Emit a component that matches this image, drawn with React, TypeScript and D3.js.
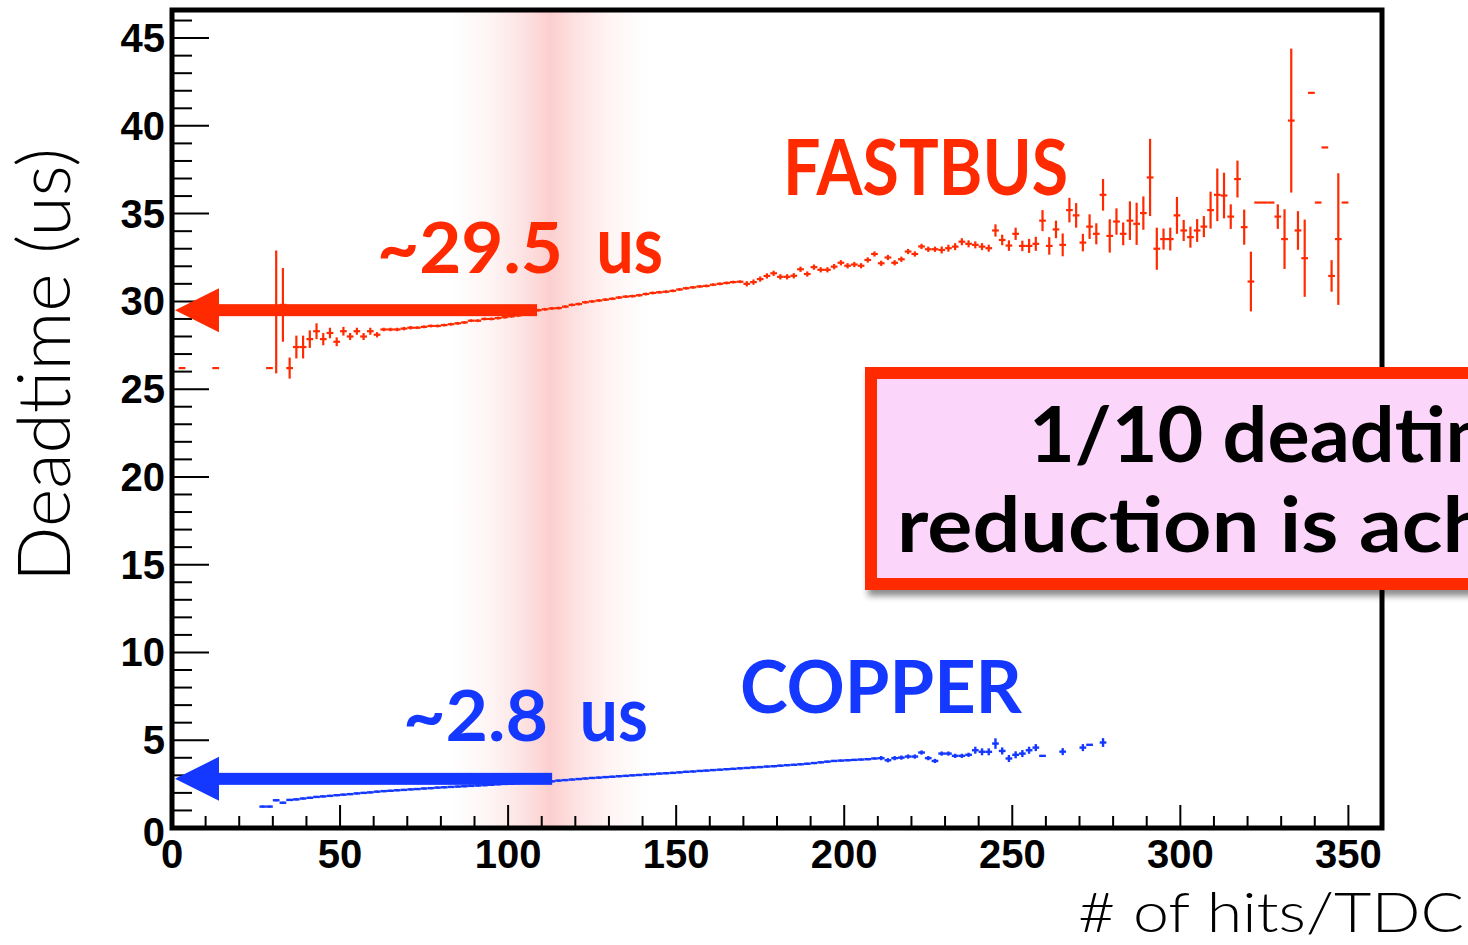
import React from "react";
import * as d3 from "d3";

// ---------- data ----------
const fastbusBins = [
  3, 13, 29, 31, 33, 35, 37, 39, 41, 43, 45, 47, 49, 51, 53, 55, 57, 59, 61, 63, 65, 67, 69, 71, 73, 75, 77, 79, 81,
  83, 85, 87, 89, 91, 93, 95, 97, 99, 101, 103, 105, 107, 109, 111, 113, 115, 117, 119, 121, 123, 125, 127, 129,
  131, 133, 135, 137, 139, 141, 143, 145, 147, 149, 151, 153, 155, 157, 159, 161, 163, 165, 167, 169, 171, 173,
  175, 177, 179, 181, 183, 185, 187, 189, 191, 193, 195, 197, 199, 201, 203, 205, 207, 209, 211, 213, 215, 217,
  219, 221, 223, 225, 227, 229, 231, 233, 235, 237, 239, 241, 243, 245, 247, 249, 251, 253, 255, 257, 259, 261,
  263, 265, 267, 269, 271, 273, 275, 277, 279, 281, 283, 285, 287, 289, 291, 293, 295, 297, 299, 301, 303, 305,
  307, 309, 311, 313, 315, 317, 319, 321, 323, 325, 327, 329, 331, 333, 335, 337, 339, 341, 343, 345, 347, 349,
];
const fastbusDeadtime = [
  26.2, 26.2, 26.2, 29.4, 29.8, 26.2, 27.4, 27.4, 27.85, 28.3, 27.85, 28.2, 27.7, 28.3, 28.0, 28.3, 28.0, 28.3, 28.1,
  28.4, 28.4, 28.4, 28.45, 28.5, 28.5, 28.55, 28.6, 28.6, 28.65, 28.7, 28.75, 28.8, 28.9, 28.9, 29.0, 29.0, 29.05,
  29.1, 29.15, 29.2, 29.3, 29.4, 29.5, 29.55, 29.6, 29.62, 29.7, 29.8, 29.85, 29.95, 30.0, 30.05, 30.1, 30.15,
  30.22, 30.27, 30.3, 30.35, 30.42, 30.48, 30.52, 30.55, 30.6, 30.68, 30.75, 30.8, 30.85, 30.88, 30.95, 31.0,
  31.05, 31.1, 31.12, 31.0, 31.1, 31.27, 31.45, 31.6, 31.4, 31.4, 31.46, 31.83, 31.56, 31.95, 31.8, 31.8, 31.98,
  32.2, 32.03, 32.1, 32.03, 32.36, 32.7, 32.17, 32.5, 32.2, 32.4, 32.84, 32.7, 33.13, 32.97, 32.97, 32.93, 33.03,
  33.12, 33.4, 33.28, 33.22, 33.12, 33.03, 34.04, 33.5, 33.18, 33.85, 33.16, 33.16, 33.28, 34.6, 33.16, 34.1,
  33.22, 35.2, 34.9, 33.35, 34.26, 33.85, 36.07, 33.73, 34.55, 33.85, 34.6, 34.42, 35.03, 37.06, 33.0, 33.55,
  33.55, 34.9, 34.04, 33.66, 34.04, 34.26, 35.2, 36.07, 36.03, 34.83, 36.97, 34.23, 31.13, 35.63, 35.63, 35.63,
  34.83, 33.55, 40.3, 34.04, 32.46, 41.88, 35.63, 38.77, 31.45, 33.55, 35.63,
];
const fastbusError = [
  0, 0, 0, 3.5, 2.1, 0.6, 0.65, 0.65, 0.5, 0.45, 0.35, 0.3, 0.25, 0.25, 0.2, 0.2, 0.2, 0.2, 0.15, 0.1, 0.1, 0.1, 0.1,
  0.1, 0.08, 0.08, 0.08, 0.08, 0.08, 0.08, 0.08, 0.08, 0.08, 0.08, 0.08, 0.08, 0.08, 0.08, 0.08, 0.08, 0.08, 0.08,
  0.08, 0.08, 0.08, 0.08, 0.08, 0.08, 0.08, 0.08, 0.08, 0.08, 0.08, 0.08, 0.08, 0.08, 0.08, 0.08, 0.08, 0.08,
  0.08, 0.08, 0.08, 0.08, 0.08, 0.08, 0.08, 0.08, 0.08, 0.08, 0.08, 0.08, 0.08, 0.15, 0.15, 0.15, 0.15, 0.15,
  0.15, 0.15, 0.15, 0.15, 0.15, 0.15, 0.15, 0.15, 0.15, 0.15, 0.15, 0.15, 0.15, 0.15, 0.15, 0.15, 0.15, 0.15,
  0.15, 0.15, 0.15, 0.15, 0.15, 0.15, 0.2, 0.2, 0.2, 0.2, 0.2, 0.2, 0.2, 0.2, 0.35, 0.3, 0.3, 0.35, 0.3, 0.4, 0.4,
  0.6, 0.5, 0.5, 0.65, 0.7, 0.7, 0.5, 0.7, 0.6, 0.9, 0.95, 0.75, 0.65, 1.1, 1.2, 0.95, 2.2, 1.2, 0.6, 0.65, 1.05,
  0.6, 0.6, 0.65, 0.6, 1.05, 1.5, 1.3, 0.7, 1.05, 1.0, 1.7, 0, 0, 0, 0.7, 1.7, 4.1, 1.1, 2.2, 0, 0, 0, 0.9, 3.75, 0,
];

const copperBins = [
  27, 29, 31, 33, 35, 37, 39, 41, 43, 45, 47, 49, 51, 53, 55, 57, 59, 61, 63, 65, 67, 69, 71, 73, 75, 77, 79, 81, 83,
  85, 87, 89, 91, 93, 95, 97, 99, 101, 103, 105, 107, 109, 111, 113, 115, 117, 119, 121, 123, 125, 127, 129, 131,
  133, 135, 137, 139, 141, 143, 145, 147, 149, 151, 153, 155, 157, 159, 161, 163, 165, 167, 169, 171, 173, 175,
  177, 179, 181, 183, 185, 187, 189, 191, 193, 195, 197, 199, 201, 203, 205, 207, 209, 211, 213, 215, 217, 219,
  221, 223, 225, 227, 229, 231, 233, 235, 237, 239, 241, 243, 245, 247, 249, 251, 253, 255, 257, 259, 265, 271,
  273, 277,
];
const copperDeadtime = [
  1.22, 1.22, 1.58, 1.44, 1.6, 1.63, 1.68, 1.72, 1.77, 1.8, 1.83, 1.87, 1.9, 1.93, 1.97, 2.0, 2.03, 2.07, 2.1, 2.12,
  2.15, 2.17, 2.2, 2.22, 2.25, 2.27, 2.3, 2.32, 2.34, 2.36, 2.38, 2.4, 2.42, 2.44, 2.46, 2.49, 2.51, 2.53, 2.56, 2.58,
  2.6, 2.62, 2.64, 2.66, 2.7, 2.73, 2.76, 2.79, 2.82, 2.85, 2.87, 2.9, 2.92, 2.95, 2.97, 3.0, 3.02, 3.05, 3.07, 3.1,
  3.12, 3.14, 3.17, 3.2, 3.22, 3.25, 3.27, 3.3, 3.32, 3.35, 3.37, 3.4, 3.42, 3.45, 3.47, 3.5, 3.52, 3.55, 3.58, 3.6,
  3.63, 3.66, 3.7, 3.74, 3.78, 3.82, 3.84, 3.86, 3.88, 3.9, 3.92, 3.96, 3.98, 3.86, 3.98, 4.01, 4.07, 4.07, 4.3,
  3.98, 3.82, 4.24, 4.24, 4.11, 4.11, 4.17, 4.43, 4.34, 4.34, 4.81, 4.39, 3.96, 4.17, 4.24, 4.43, 4.58, 4.11, 4.35,
  4.58, 4.74, 4.87,
];
const copperError = copperBins.map((b) =>
  b === 245 ? 0.3 : b === 277 ? 0.25 : b === 259 || b === 273 ? 0 : b >= 239 ? 0.2 : b >= 211 ? 0.12 : 0.06
);

const xTickValues = [0, 50, 100, 150, 200, 250, 300, 350];
const yTickValues = [0, 5, 10, 15, 20, 25, 30, 35, 40, 45];

const RED = "#ff2a00";
const BLUE = "#1438ff";

// ---------- scales ----------
const xScale = d3.scaleLinear().domain([0, 360]).range([172, 1382]);
const yScale = d3.scaleLinear().domain([0, 46.6]).range([828, 10]);
const BIN_HALF = 1;

function Crosses({ bins, vals, errs, color, sw }) {
  return (
    <g stroke={color} strokeWidth={sw} fill="none">
      {bins.map((b, i) => {
        const y = yScale(vals[i]);
        const x = xScale(b);
        return (
          <g key={i}>
            <line x1={xScale(b - BIN_HALF)} x2={xScale(b + BIN_HALF)} y1={y} y2={y} />
            {errs[i] > 0 && <line x1={x} x2={x} y1={yScale(vals[i] - errs[i])} y2={yScale(vals[i] + errs[i])} />}
          </g>
        );
      })}
    </g>
  );
}

function Arrow({ value, tail, color }) {
  const y = yScale(value);
  const tip = xScale(0) + 3;
  const base = tip + 44;
  return (
    <g fill={color}>
      <rect x={base - 1} y={y - 6} width={xScale(tail) - base + 1} height={12} />
      <polygon points={`${tip},${y} ${base},${y - 22} ${base},${y + 22}`} />
    </g>
  );
}

export default function App() {
  const yMinor = d3.range(1, 47);
  const xMinor = d3.range(10, 360, 10);
  const axisFont = "'Liberation Sans', Arial, sans-serif";
  const annFont = "Lato, 'Open Sans', sans-serif";
  const bandC = "rgb(245,75,75)";
  return (
    <svg
      width={1468}
      height={945}
      style={{ position: "absolute", left: 0, top: 0, background: "#fff" }}
      xmlns="http://www.w3.org/2000/svg"
    >
      <defs>
        <linearGradient id="band" x1={xScale(83)} x2={xScale(142)} y1={0} y2={0} gradientUnits="userSpaceOnUse">
          <stop offset="0" stopColor={bandC} stopOpacity={0} />
          <stop offset="0.2" stopColor={bandC} stopOpacity={0.06} />
          <stop offset="0.38" stopColor={bandC} stopOpacity={0.17} />
          <stop offset="0.5" stopColor={bandC} stopOpacity={0.27} />
          <stop offset="0.62" stopColor={bandC} stopOpacity={0.17} />
          <stop offset="0.8" stopColor={bandC} stopOpacity={0.06} />
          <stop offset="1" stopColor={bandC} stopOpacity={0} />
        </linearGradient>
        <filter id="shadow" x="-5%" y="-10%" width="115%" height="130%">
          <feDropShadow dx="3" dy="6" stdDeviation="3" floodColor="#000" floodOpacity="0.45" />
        </filter>
      </defs>

      {/* highlight band */}
      <rect x={xScale(83)} y={yScale(46.6)} width={xScale(142) - xScale(83)} height={yScale(0) - yScale(46.6)} fill="url(#band)" />

      {/* ticks */}
      <g stroke="#000" strokeWidth={2}>
        {yMinor.map((v) => (
          <line key={"y" + v} x1={xScale(0)} x2={xScale(0) + (v % 5 === 0 ? 37 : 20)} y1={yScale(v)} y2={yScale(v)} />
        ))}
        {xMinor.map((v) => (
          <line key={"x" + v} x1={xScale(v)} x2={xScale(v)} y1={yScale(0)} y2={yScale(0) - (v % 50 === 0 ? 23 : 12)} />
        ))}
      </g>

      {/* data */}
      <Crosses bins={copperBins} vals={copperDeadtime} errs={copperError} color={BLUE} sw={2.4} />
      <Crosses bins={fastbusBins} vals={fastbusDeadtime} errs={fastbusError} color={RED} sw={2.2} />

      {/* frame */}
      <rect x={xScale(0)} y={yScale(46.6)} width={xScale(360) - xScale(0)} height={yScale(0) - yScale(46.6)} fill="none" stroke="#000" strokeWidth={5} />

      {/* tick labels */}
      <g fontFamily={axisFont} fontWeight="bold" fontSize={40} fill="#000">
        {yTickValues.map((v) => (
          <text key={"yl" + v} x={165} y={yScale(v) + 14 + (v === 0 ? 4 : 0)} textAnchor="end">
            {v}
          </text>
        ))}
        {xTickValues.map((v) => (
          <text key={"xl" + v} x={xScale(v)} y={868} textAnchor="middle">
            {v}
          </text>
        ))}
      </g>

      {/* axis titles */}
      <text transform="translate(70,365) rotate(-90)" textAnchor="middle" fontFamily={annFont} fontWeight={300} fontSize={72} textLength={434} lengthAdjust="spacingAndGlyphs" fill="#000">
        Deadtime (us)
      </text>
      <text x={1078} y={932} fontFamily={annFont} fontWeight={300} fontSize={56} textLength={386} lengthAdjust="spacingAndGlyphs" fill="#000">
        # of hits/TDC
      </text>

      {/* arrows */}
      <Arrow value={29.5} tail={108.6} color={RED} />
      <Arrow value={2.8} tail={113.1} color={BLUE} />

      {/* annotations */}
      <g fontFamily={annFont} fontWeight={700}>
        <text x={783} y={195} fontSize={76} fill={RED} textLength={285} lengthAdjust="spacingAndGlyphs">FASTBUS</text>
        <text x={740} y={713} fontSize={72} fill={BLUE} textLength={282} lengthAdjust="spacingAndGlyphs">COPPER</text>
        <text y={273} fill={RED}>
          <tspan x={377} fontSize={71} textLength={186} lengthAdjust="spacingAndGlyphs">~29.5</tspan>
          <tspan x={580} fontSize={81} textLength={83} lengthAdjust="spacingAndGlyphs"> us</tspan>
        </text>
        <text y={741} fill={BLUE}>
          <tspan x={403} fontSize={70} textLength={145} lengthAdjust="spacingAndGlyphs">~2.8</tspan>
          <tspan x={563} fontSize={76} textLength={85} lengthAdjust="spacingAndGlyphs"> us</tspan>
        </text>
      </g>

      {/* callout box */}
      <g filter="url(#shadow)">
        <rect x={871} y={373} width={900} height={211} fill="#fcd5fa" stroke={RED} strokeWidth={12} />
      </g>
      <g fontFamily={annFont} fontWeight={700} fontSize={76} fill="#000">
        <text x={1029} y={462} textLength={525} lengthAdjust="spacingAndGlyphs">1/10 deadtime</text>
        <text x={897} y={552} textLength={795} lengthAdjust="spacingAndGlyphs">reduction is achieved</text>
      </g>
    </svg>
  );
}
